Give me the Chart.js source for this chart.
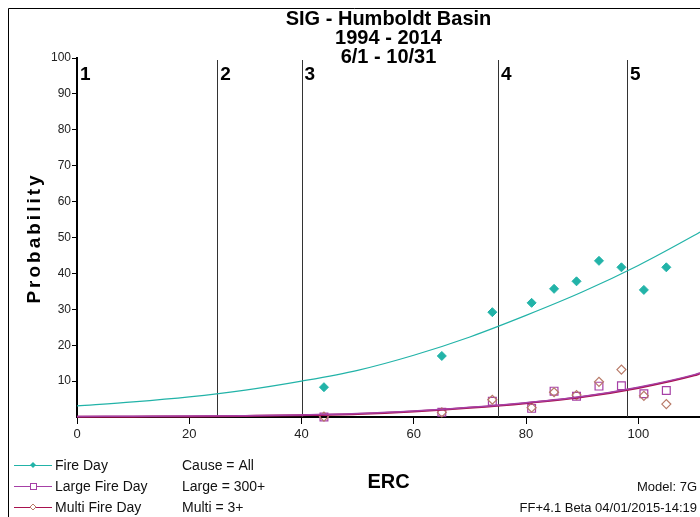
<!DOCTYPE html>
<html>
<head>
<meta charset="utf-8">
<script src="https://cdn.jsdelivr.net/npm/chart.js@4"></script>
<style>
  html, body { margin: 0; padding: 0; background: #fff; }
  canvas { display: block; }
</style>
</head>
<body>
<canvas id="c" width="700" height="517"></canvas>
<script>
// ---- Data ----
const titleLines = ['SIG - Humboldt Basin', '1994 - 2014', '6/1 - 10/31'];
const ercBins = [44, 65, 74, 81, 85, 89, 93, 97, 101, 105];
const fireDay = [8.3, 17.0, 29.2, 31.8, 35.7, 37.8, 43.5, 41.7, 35.4, 41.7];
const largeFireDay = [0.0, 1.3, 4.4, 2.4, 7.2, 5.8, 8.6, 8.7, 6.5, 7.4];
const multiFireDay = [0.1, 1.3, 4.8, 2.6, 6.9, 6.1, 9.8, 13.2, 5.9, 3.6];

const curveX = [0, 10, 20, 30, 40, 50, 60, 70, 80, 90, 100, 110, 111];
const fireDayCurve = [3.1, 4.2, 5.6, 7.5, 10.0, 13.0, 17.2, 22.3, 28.3, 34.8, 42.2, 50.6, 51.5];
const largeCurve = [0.15, 0.2, 0.25, 0.35, 0.55, 0.95, 1.65, 2.7, 4.0, 5.7, 8.3, 11.8, 12.3];
const multiCurve = [0.05, 0.1, 0.15, 0.3, 0.5, 0.85, 1.55, 2.55, 3.85, 5.55, 8.1, 11.6, 12.1];

const zoneBounds = [0, 25, 40, 75, 98];
const zoneLabels = ['1', '2', '3', '4', '5'];
const xTicks = [0, 20, 40, 60, 80, 100];
const yTicks = [10, 20, 30, 40, 50, 60, 70, 80, 90, 100];

const legendItems = ['Fire Day', 'Large Fire Day', 'Multi Fire Day'];
const infoItems = ['Cause = All', 'Large = 300+', 'Multi = 3+'];
const xTitle = 'ERC';
const yTitle = 'Probability';
const modelText = 'Model: 7G';
const versionText = 'FF+4.1 Beta 04/01/2015-14:19';

// ---- Colours ----
const TEAL = '#22b3a8';
const PURPLE = '#a640a6';
const MAROON = '#a8124e';
const BROWN = '#b87a68';

const pts = (xs, ys) => xs.map((x, i) => ({ x: x, y: ys[i] }));

const overlay = {
  id: 'overlay',
  beforeDatasetsDraw(chart) {
    const { ctx, chartArea, scales } = chart;
    ctx.save();
    ctx.strokeStyle = '#333';
    ctx.lineWidth = 1;
    zoneBounds.forEach((b, i) => {
      const px = Math.round(scales.x.getPixelForValue(b)) + 0.5;
      if (i > 0) {
        ctx.beginPath();
        ctx.moveTo(px, chartArea.top + 2);
        ctx.lineTo(px, chartArea.bottom);
        ctx.stroke();
      }
    });
    ctx.restore();
  },
  afterDraw(chart) {
    const { ctx, chartArea, scales } = chart;
    ctx.save();
    // frame
    ctx.strokeStyle = '#000';
    ctx.lineWidth = 1;
    ctx.beginPath();
    ctx.moveTo(8.5, 517);
    ctx.lineTo(8.5, 8.5);
    ctx.lineTo(700, 8.5);
    ctx.stroke();

    // zone labels
    ctx.fillStyle = '#000';
    ctx.font = 'bold 19px "Liberation Sans", Arial, sans-serif';
    ctx.textAlign = 'left';
    ctx.textBaseline = 'alphabetic';
    zoneBounds.forEach((b, i) => {
      const px = scales.x.getPixelForValue(b);
      ctx.fillText(zoneLabels[i], px + 3, chartArea.top + 22);
    });

    // title
    const cx = (chartArea.left + chartArea.right) / 2;
    ctx.textAlign = 'center';
    ctx.font = 'bold 20px "Liberation Sans", Arial, sans-serif';
    titleLines.forEach((t, i) => ctx.fillText(t, cx, 25 + i * 19));

    // y title
    ctx.save();
    ctx.translate(40, 238);
    ctx.rotate(-Math.PI / 2);
    ctx.font = 'bold 19px "Liberation Sans", Arial, sans-serif';
    try { ctx.letterSpacing = '3px'; } catch (e) {}
    ctx.fillText(yTitle, 0, 0);
    ctx.restore();

    // x title
    ctx.font = 'bold 20px "Liberation Sans", Arial, sans-serif';
    ctx.fillText(xTitle, cx, 488);

    // legend
    const rows = [465, 486, 507];
    const lineCols = [TEAL, PURPLE, MAROON];
    ctx.font = '14px "Liberation Sans", Arial, sans-serif';
    ctx.textAlign = 'left';
    ctx.textBaseline = 'middle';
    rows.forEach((y, i) => {
      ctx.strokeStyle = lineCols[i];
      ctx.lineWidth = 1;
      ctx.beginPath();
      ctx.moveTo(14, y + 0.5);
      ctx.lineTo(52, y + 0.5);
      ctx.stroke();
      const mx = 33;
      if (i === 0) {
        ctx.fillStyle = TEAL;
        ctx.beginPath();
        ctx.moveTo(mx, y - 3); ctx.lineTo(mx + 3, y); ctx.lineTo(mx, y + 3); ctx.lineTo(mx - 3, y);
        ctx.closePath(); ctx.fill();
      } else if (i === 1) {
        ctx.fillStyle = '#fff';
        ctx.fillRect(mx - 3, y - 3, 7, 7);
        ctx.strokeStyle = PURPLE;
        ctx.strokeRect(mx - 3 + 0.5, y - 3 + 0.5, 6, 6);
      } else {
        ctx.fillStyle = '#fff';
        ctx.strokeStyle = BROWN;
        ctx.beginPath();
        ctx.moveTo(mx, y - 3); ctx.lineTo(mx + 3, y); ctx.lineTo(mx, y + 3); ctx.lineTo(mx - 3, y);
        ctx.closePath(); ctx.fill(); ctx.stroke();
      }
      ctx.fillStyle = '#111';
      ctx.fillText(legendItems[i], 55, y + 1);
      ctx.fillText(infoItems[i], 182, y + 1);
    });

    ctx.textAlign = 'right';
    ctx.font = '13px "Liberation Sans", Arial, sans-serif';
    ctx.fillText(modelText, 697, 487);
    ctx.fillText(versionText, 697, 508);
    ctx.restore();
  }
};

new Chart(document.getElementById('c'), {
  type: 'scatter',
  data: {
    datasets: [
      { label: 'Fire Day fit', data: pts(curveX, fireDayCurve), showLine: true, borderColor: TEAL, borderWidth: 1.2, pointRadius: 0, cubicInterpolationMode: 'monotone', clip: false },
      { label: 'Large fit', data: pts(curveX, largeCurve), showLine: true, borderColor: PURPLE, borderWidth: 1.5, pointRadius: 0, cubicInterpolationMode: 'monotone', clip: false },
      { label: 'Multi fit', data: pts(curveX, multiCurve), showLine: true, borderColor: MAROON, borderWidth: 2, pointRadius: 0, cubicInterpolationMode: 'monotone', clip: false },
      { label: 'Fire Day', data: pts(ercBins, fireDay), pointStyle: 'rectRot', pointRadius: 4.5, backgroundColor: TEAL, borderColor: TEAL, borderWidth: 1, clip: false },
      { label: 'Multi Fire Day', data: pts(ercBins, multiFireDay), pointStyle: 'rectRot', pointRadius: 4.5, backgroundColor: 'rgba(0,0,0,0)', borderColor: BROWN, borderWidth: 1.2, clip: false },
      { label: 'Large Fire Day', data: pts(ercBins, largeFireDay), pointStyle: 'rect', pointRadius: 5.5, backgroundColor: 'rgba(0,0,0,0)', borderColor: PURPLE, borderWidth: 1.2, clip: false }
    ]
  },
  options: {
    responsive: false,
    animation: false,
    devicePixelRatio: 1,
    layout: { autoPadding: false, padding: { top: 58, left: 0, right: 0, bottom: 0 } },
    plugins: { legend: { display: false }, title: { display: false }, tooltip: { enabled: false } },
    scales: {
      x: {
        type: 'linear', min: 0, max: 111,
        afterFit: s => { s.height = 100; s.paddingRight = 0; s.paddingLeft = 0; },
        afterBuildTicks: s => { s.ticks = xTicks.map(v => ({ value: v })); },
        border: { color: '#000', width: 2 },
        grid: { drawOnChartArea: false, drawTicks: true, tickLength: 7, color: '#000' },
        ticks: { color: '#222', padding: 3, font: { family: '"Liberation Sans", Arial, sans-serif', size: 13 }, maxRotation: 0 }
      },
      y: {
        type: 'linear', min: 0, max: 100,
        afterFit: s => { s.width = 77; s.paddingTop = 0; s.paddingBottom = 0; },
        afterBuildTicks: s => { s.ticks = yTicks.map(v => ({ value: v })); },
        border: { color: '#000', width: 2 },
        grid: { drawOnChartArea: false, drawTicks: true, tickLength: 5, color: '#000' },
        ticks: { color: '#222', padding: 1, font: { family: '"Liberation Sans", Arial, sans-serif', size: 12 } }
      }
    }
  },
  plugins: [overlay]
});
</script>
</body>
</html>
